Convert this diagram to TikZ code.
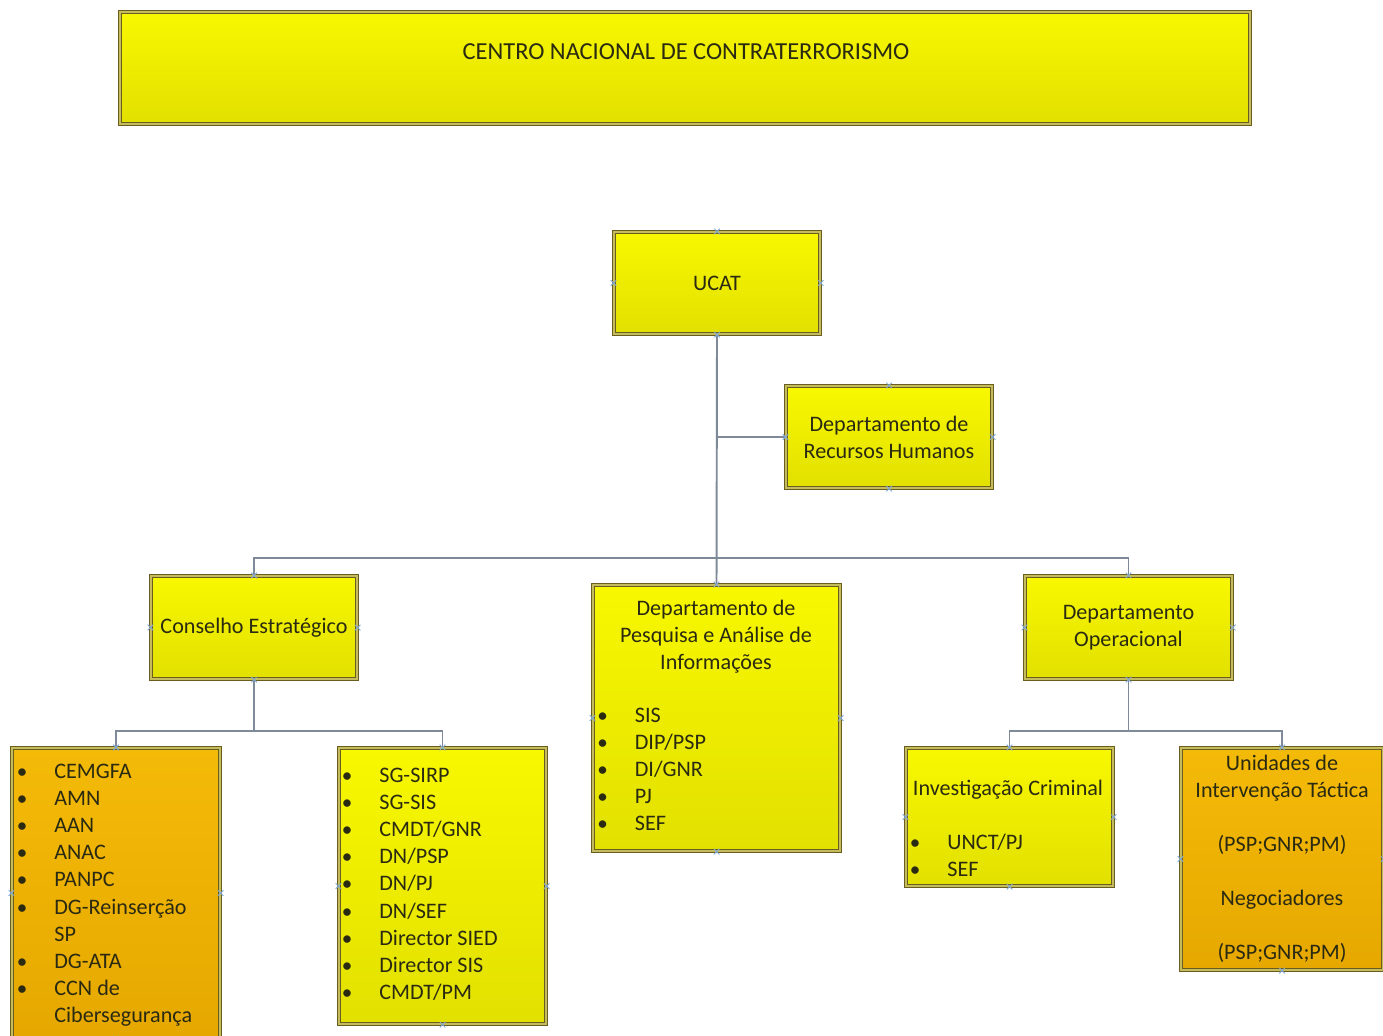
\documentclass[tikz,border=0pt]{standalone}
\usepackage{fontspec}
\setmainfont{Carlito}
\usepackage{tikz}
\usetikzlibrary{positioning}
\definecolor{edge}{HTML}{6A5E1E}
\definecolor{edgegap}{HTML}{C4BA5E}
\definecolor{yelTop}{HTML}{F8F800}
\definecolor{yelBot}{HTML}{E2E000}
\definecolor{oraTop}{HTML}{F4BA08}
\definecolor{oraBot}{HTML}{E6A800}
\definecolor{wire}{HTML}{7F8A98}
\definecolor{pinblue}{HTML}{7FA8D8}
\definecolor{ink}{HTML}{2A2A12}
\newcommand{\bodyfont}{\fontsize{12.6}{15.4}\selectfont}
\newcommand{\bul}{\makebox[0.75cm][l]{\large•}}
\newcommand{\nobul}{\hspace*{0.75cm}}

\begin{document}
\begin{tikzpicture}[
    unit/.style={
        rectangle,
        draw=edge,
        line width=0.7pt,
        double=edgegap,
        double distance=1.2pt,
        top color=yelTop,
        bottom color=yelBot,
        inner sep=0pt,
        minimum width=4.12cm,
        minimum height=2.04cm,
        align=center,
        font=\bodyfont,
        text=ink
    },
    member/.style={
        unit,
        top color=oraTop,
        bottom color=oraBot
    },
    caption/.style={
        font=\bodyfont,
        text=ink,
        inner sep=0pt,
        align=center
    },
    list/.style={
        font=\bodyfont,
        text=ink,
        inner sep=0pt,
        align=left,
        anchor=north west
    },
    conn/.style={draw=wire, line width=1.1pt},
    pinx/.style={draw=pinblue, line width=0.5pt}
    ]
    \useasboundingbox (0,0) rectangle (27.66,-20.7);

    % Title banner
    \node[unit, minimum width=22.6cm, minimum height=2.24cm] (ctr) at (13.70,-1.36) {};
    \node[caption, anchor=base, font=\fontsize{13.9}{16}\selectfont] (ctrText) at (13.72,-1.19) {CENTRO NACIONAL DE CONTRATERRORISMO};

    % Top level
    \node[unit] (ucat) at (14.34,-5.66) {UCAT};
    \node[unit] (drh) at (17.78,-8.74) {Departamento de\\Recursos Humanos};

    % Second level
    \node[unit, minimum height=2.06cm] (cons) at (5.08,-12.55) {Conselho Estratégico};

    \node[unit, minimum width=4.94cm, minimum height=5.32cm] (dpai) at (14.33,-14.36) {};
    \node[caption, anchor=north] (dpaiTitle) at (14.32,-11.99) {Departamento de\\Pesquisa e Análise de\\Informações};
    \node[list] (dpaiList) at (11.94,-14.16) {\bul SIS\\ \bul DIP/PSP\\ \bul DI/GNR\\ \bul PJ\\ \bul SEF};

    \node[unit, minimum width=4.14cm, minimum height=2.06cm] (dop) at (22.57,-12.55) {Departamento\\Operacional};

    % Conselho members
    \node[member, minimum width=4.16cm, minimum height=5.8cm] (cem) at (2.32,-17.86) {};
    \node[list] (cemList) at (0.33,-15.28) {\bul CEMGFA\\ \bul AMN\\ \bul AAN\\ \bul ANAC\\ \bul PANPC\\
        \bul DG-Reinserção\\ \nobul SP\\ \bul DG-ATA\\ \bul CCN de\\ \nobul Cibersegurança};

    \node[unit, minimum width=4.14cm, minimum height=5.52cm] (sg) at (8.85,-17.72) {};
    \node[list] (sgList) at (6.83,-15.36) {\bul SG-SIRP\\ \bul SG-SIS\\ \bul CMDT/GNR\\ \bul DN/PSP\\ \bul DN/PJ\\
        \bul DN/SEF\\ \bul Director SIED\\ \bul Director SIS\\ \bul CMDT/PM};

    % Operacional units
    \node[unit, minimum width=4.14cm, minimum height=2.76cm] (inv) at (20.19,-16.34) {};
    \node[caption, anchor=base] (invTitle) at (20.16,-15.90) {Investigação Criminal};
    \node[list] (invList) at (18.19,-16.68) {\bul UNCT/PJ\\ \bul SEF};

    \node[member, minimum width=4.04cm, minimum height=4.44cm] (uni) at (25.64,-17.18) {Unidades de\\Intervenção Táctica\\[15.4pt]
        (PSP;GNR;PM)\\[15.4pt] Negociadores\\[15.4pt] (PSP;GNR;PM)};

    % Connectors
    \coordinate (bus) at (14.34,-11.16);
    \coordinate (consSplit) at (5.08,-14.62);
    \coordinate (dopSplit) at (22.57,-14.62);
    \draw[conn] (ucat.south) -- (dpai.north);
    \draw[conn] (ucat.south |- drh.west) -- (drh.west);
    \draw[conn] (cons.north) |- (bus) -| (dop.north);
    \draw[conn] (cons.south) -- (consSplit);
    \draw[conn] (cem.north) |- (consSplit) -| (sg.north);
    \draw[conn] (dop.south) -- (dopSplit);
    \draw[conn] (inv.north) |- (dopSplit) -| (uni.north);

    % Connection points
    \foreach \n in {ucat,drh,cons,dpai,dop,cem,sg,inv,uni}
        \foreach \a in {north,south,east,west}
            \draw[pinx] (\n.\a) +(-1.6pt,-1.6pt) -- +(1.6pt,1.6pt) +(-1.6pt,1.6pt) -- +(1.6pt,-1.6pt);
\end{tikzpicture}
\end{document}
